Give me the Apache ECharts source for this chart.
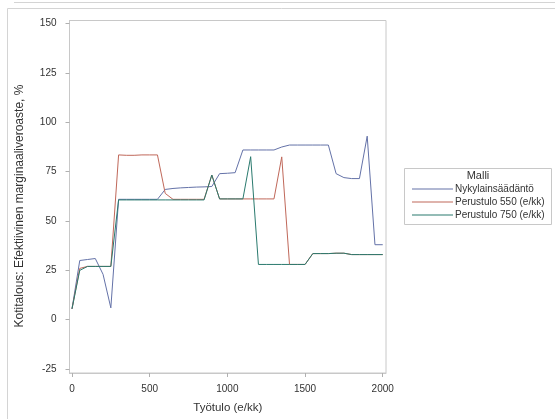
<!DOCTYPE html>
<html>
<head>
<meta charset="utf-8">
<script src="https://cdn.jsdelivr.net/npm/echarts@6/dist/echarts.min.js"></script>
<style>
html,body{margin:0;padding:0;background:#fff;}
#chart{width:555px;height:419px;}
</style>
</head>
<body>
<div id="chart"></div>
<script>
// Työtulo (e/kk)
var tyotulo = [0,50,100,150,200,250,300,350,400,450,500,550,600,650,700,750,800,850,900,950,1000,1050,1100,1150,1200,1250,1300,1350,1400,1450,1500,1550,1600,1650,1700,1750,1800,1850,1900,1950,2000];
var nykylainsaadanto = [5.5,30,30.5,31,23,6,61,61,61,61,61,61,66,66.5,66.8,67,67.2,67.3,67.5,74,74.2,74.5,86,86,86,86,86,87.5,88.5,88.5,88.5,88.5,88.5,88.5,74,72,71.5,71.5,93,38,38];
var perustulo550 = [5.5,26,27,27,27,27,83.5,83.3,83.3,83.5,83.5,83.5,64,61,61,61,61,61,73.3,61.2,61.2,61.2,61.2,61.2,61.2,61.2,61.2,82.5,28,28,28,33.5,33.5,33.5,33.7,33.7,33,33,33,33,33];
var perustulo750 = [5.5,25,27,27,27,27,60.7,60.7,60.7,60.7,60.7,60.7,60.7,60.7,60.7,60.7,60.7,60.7,73.3,61.2,61.2,61.2,61.2,82.6,28,28,28,28,28,28,28,33.5,33.5,33.5,33.7,33.7,33,33,33,33,33];
var yTicks = [-25,0,25,50,75,100,125,150];
var xTicks = [0,500,1000,1500,2000];
var seriesNames = ['Nykylainsäädäntö','Perustulo 550 (e/kk)','Perustulo 750 (e/kk)'];
var legendTitle = 'Malli';
var xTitle = 'Työtulo (e/kk)';
var yTitle = 'Kotitalous: Efektiivinen marginaaliveroaste, %';

function pairs(ys){ return tyotulo.map(function(x,i){ return [x, ys[i]]; }); }

var font = 'Liberation Sans, Arial, sans-serif';
var colors = ['#6472a8','#c0685a','#2a7a6e'];
var chart = echarts.init(document.getElementById('chart'), null, {renderer:'canvas'});
chart.setOption({
  animation:false,
  backgroundColor:'#fff',
  color:colors,
  textStyle:{fontFamily:font},
  grid:{left:69.5,right:169,top:20.5,bottom:45.7,show:true,borderColor:'#c8c8c8',borderWidth:1,containLabel:false},
  xAxis:{
    type:'value',min:-16,max:2021,
    name:xTitle,nameLocation:'middle',nameGap:29,
    nameTextStyle:{fontSize:11.5,color:'#333',fontFamily:font},
    axisLine:{show:true,onZero:false,lineStyle:{color:'#c8c8c8'}},
    axisTick:{show:true,length:4,customValues:xTicks,lineStyle:{color:'#b0b0b0'}},
    axisLabel:{customValues:xTicks,fontSize:10,color:'#333',margin:11,fontFamily:font,
      formatter:function(v){return String(v);}},
    splitLine:{show:false}
  },
  yAxis:{
    type:'value',min:-27,max:151.6,
    axisLine:{show:true,onZero:false,lineStyle:{color:'#c8c8c8'}},
    axisTick:{show:true,length:4,customValues:yTicks,lineStyle:{color:'#b0b0b0'}},
    axisLabel:{customValues:yTicks,fontSize:10,color:'#333',margin:13,fontFamily:font,
      formatter:function(v){return String(v);}},
    splitLine:{show:false}
  },
  legend:{
    orient:'vertical',left:407,top:179,
    itemWidth:41,itemHeight:1,itemGap:3,icon:'rect',
    textStyle:{fontSize:10,color:'#333',fontFamily:font,padding:[0,0,0,-3],lineHeight:10},
    data:seriesNames,selectedMode:false
  },
  graphic:[
    {type:'rect',shape:{x:7.5,y:8.5,width:560,height:420},style:{fill:null,stroke:'#d4d4d4',lineWidth:1},silent:true,z:-1},
    {type:'line',shape:{x1:14,y1:2.5,x2:560,y2:2.5},style:{stroke:'#d4d4d4',lineWidth:1},silent:true},
    {type:'rect',shape:{x:404.5,y:168.5,width:147,height:56},style:{fill:null,stroke:'#c8c8c8',lineWidth:1},silent:true},
    {type:'text',x:478,y:170,style:{text:legendTitle,fontSize:11,fill:'#333',fontFamily:font,align:'center'},silent:true},
    {type:'text',x:20,y:206,rotation:Math.PI/2,style:{text:yTitle,fontSize:12,fill:'#333',fontFamily:font,align:'center',verticalAlign:'middle'},silent:true}
  ],
  series:[
    {name:seriesNames[0],type:'line',data:pairs(nykylainsaadanto),symbol:'none',lineStyle:{width:1},z:2},
    {name:seriesNames[1],type:'line',data:pairs(perustulo550),symbol:'none',lineStyle:{width:1},z:3},
    {name:seriesNames[2],type:'line',data:pairs(perustulo750),symbol:'none',lineStyle:{width:1},z:4}
  ]
});
</script>
</body>
</html>
